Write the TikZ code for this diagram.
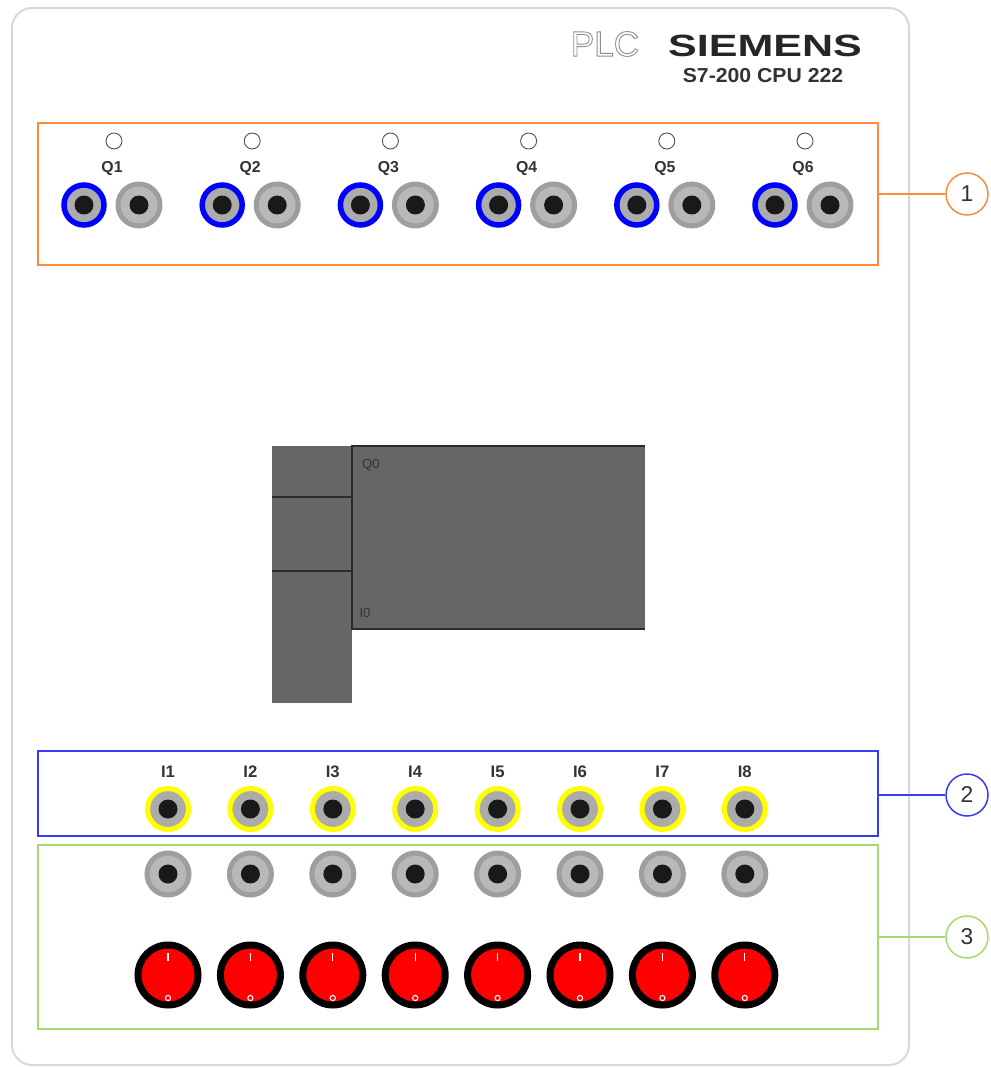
\documentclass[tikz,border=0pt]{standalone}
\usepackage{fontspec}
\setmainfont{Liberation Sans}

\definecolor{panelline}{HTML}{D8D8D8}
\definecolor{outorange}{HTML}{FF8A3D}
\definecolor{inblue}{HTML}{3A3AF2}
\definecolor{swgreen}{HTML}{A9D870}
\definecolor{jackgray}{HTML}{ABABAB}
\definecolor{jackring}{HTML}{9E9E9E}
\definecolor{jackyellow}{HTML}{FFFF00}
\definecolor{plcgray}{HTML}{666666}
\definecolor{plcline}{HTML}{2B2B2B}
\definecolor{labgray}{HTML}{333333}

% hollow letters for the PLC mark
\newcommand{\hollowtext}[1]{\special{pdf:code 1 Tr 0.5 w}#1\special{pdf:code 0 Tr}}

\tikzset{
  zone/.style={draw, line width=0.04cm, minimum width=16.8cm, inner sep=0pt},
  callout/.style={circle, draw, line width=0.03cm, fill=white, minimum size=0.84cm,
    inner sep=0pt, text=labgray, font=\fontsize{13}{13}\selectfont},
  led/.style={circle, draw=black!70, line width=0.5pt, fill=white, minimum size=0.32cm, inner sep=0pt},
  lab/.style={font=\bfseries\fontsize{9}{9}\selectfont, text=labgray, inner sep=0pt},
  jackq/.style={circle, draw=blue, line width=0.11cm, fill=jackgray, minimum size=0.8cm, inner sep=0pt},
  jackg/.style={circle, draw=jackring, line width=0.1cm, fill=jackgray!85, minimum size=0.84cm, inner sep=0pt},
  jacki/.style={circle, draw=jackyellow, line width=0.1cm, fill=jackgray, minimum size=0.82cm, inner sep=0pt},
  pin/.style={circle, fill=black!90, minimum size=0.38cm, inner sep=0pt},
  knob/.style={circle, draw=black, line width=0.14cm, fill=red, minimum size=1.2cm, inner sep=0pt}
}

\begin{document}
\begin{tikzpicture}[x=0.02cm,y=-0.02cm]
\useasboundingbox (0,0) rectangle (990,1067);

% front plate
\draw[panelline, line width=0.04cm, rounded corners=0.4cm] (12,8) rectangle (909,1065);

% header
\node (plc) at (605,44) [text=black!45, font=\fontsize{20}{20}\selectfont] {\hollowtext{PLC}};
\node (brand) at (765,46) [text=black!85, xscale=1.4, font=\bfseries\fontsize{17.5}{17.5}\selectfont] {SIEMENS};
\node (cpu) at (763,76) [text=labgray, xscale=1.05, font=\bfseries\fontsize{11.5}{11.5}\selectfont] {S7-200 CPU 222};

% zones
\node (outbox) at (458,194) [zone, draw=outorange, minimum height=2.84cm] {};
\node (inbox) at (458,793.5) [zone, draw=inblue, minimum height=1.7cm] {};
\node (swbox) at (458,937) [zone, draw=swgreen, minimum height=3.68cm] {};

\node (c1) at (967,194) [callout, draw=outorange] {1};
\node (c2) at (967,795) [callout, draw=inblue] {2};
\node (c3) at (967,937) [callout, draw=swgreen] {3};

\draw[outorange, line width=0.03cm] (outbox.east |- c1) -- (c1);
\draw[inblue, line width=0.03cm] (inbox.east |- c2) -- (c2);
\draw[swgreen, line width=0.03cm] (swbox.east |- c3) -- (c3);

% outputs
\foreach \i in {1,...,6} {
  \pgfmathsetmacro{\xq}{84+138.2*(\i-1)}
  \node (led\i) at (\xq+30,141) [led] {};
  \node (qlab\i) at (\xq+28,169) [lab] {Q\i};
  \node (qa\i) at (\xq,205) [jackq] {};
  \node (qapin\i) at (qa\i) [pin] {};
  \node (qb\i) at (\xq+55,205) [jackg] {};
  \node (qbpin\i) at (qb\i) [pin] {};
}

% cpu
\fill[plcgray] (272,446) rectangle (352,703);
\fill[plcgray] (352,446) rectangle (645,629);
\draw[plcline, line width=0.03cm] (272,497) -- (352,497);
\draw[plcline, line width=0.03cm] (272,571) -- (352,571);
\draw[plcline, line width=0.03cm] (645,446) -- (352,446) -- (352,629) -- (645,629);
\node (q0) at (371,465) [text=black!80, font=\fontsize{7.5}{7.5}\selectfont] {Q0};
\node (i0) at (365,613) [text=black!80, font=\fontsize{7.5}{7.5}\selectfont] {I0};

% inputs, commons and switches
\foreach \i in {1,...,8} {
  \pgfmathsetmacro{\xi}{168+82.4*(\i-1)}
  \node (ilab\i) at (\xi,772) [lab, font=\bfseries\fontsize{9.5}{9.5}\selectfont] {I\i};
  \node (in\i) at (\xi,809) [jacki] {};
  \node (inpin\i) at (in\i) [pin] {};
  \node (com\i) at (\xi,874) [jackg] {};
  \node (compin\i) at (com\i) [pin] {};
  \node (sw\i) at (\xi,975) [knob] {};
  \draw[white, line width=0.6pt] (\xi,953) -- (\xi,961);
  \draw[white, line width=0.6pt] (\xi,998) circle (2.6);
}
\end{tikzpicture}
\end{document}
